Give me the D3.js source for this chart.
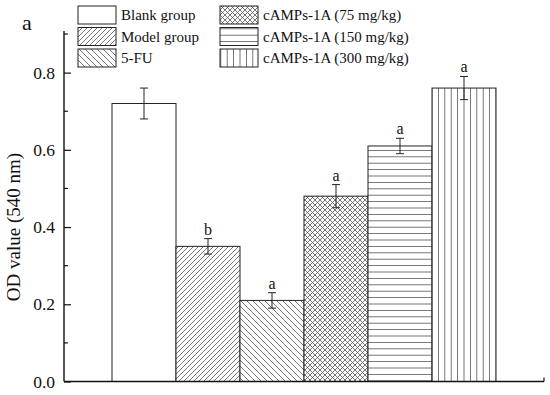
<!DOCTYPE html>
<html>
<head>
<meta charset="utf-8">
<script src="https://cdn.jsdelivr.net/npm/d3@7"></script>
<style>
  body { margin: 0; background: #fff; }
  svg { font-family: "Liberation Serif", "Times New Roman", serif; }
</style>
</head>
<body>
<svg id="chart" width="550" height="395"></svg>
<script>
// data
const groups = ["Blank group", "Model group", "5-FU", "cAMPs-1A (75 mg/kg)", "cAMPs-1A (150 mg/kg)", "cAMPs-1A (300 mg/kg)"];
const values = [0.72, 0.35, 0.21, 0.48, 0.61, 0.76];
const errors = [0.04, 0.02, 0.02, 0.03, 0.02, 0.03];
const letters = ["", "b", "a", "a", "a", "a"];
const patterns = ["none", "diag1", "diag2", "cross", "horiz", "vert"];
const yTicks = [0.0, 0.2, 0.4, 0.6, 0.8];

const svg = d3.select("#chart");
const mLeft = 64, mRight = 544, mTop = 34, mBottom = 381.5;

const x = d3.scaleBand().domain(groups).range([mLeft, mRight]).paddingInner(0).paddingOuter(0.75);
const y = d3.scaleLinear().domain([0, 0.9]).range([mBottom, mTop]);

// hatch patterns
const defs = svg.append("defs");
function pat(id, size, draw) {
  const p = defs.append("pattern").attr("id", id).attr("patternUnits", "userSpaceOnUse")
    .attr("width", size).attr("height", size);
  p.append("rect").attr("width", size).attr("height", size).attr("fill", "#fff");
  draw(p, size);
}
function ln(p, x1, y1, x2, y2) {
  p.append("line").attr("x1", x1).attr("y1", y1).attr("x2", x2).attr("y2", y2)
    .attr("stroke", "#555").attr("stroke-width", 0.8);
}
pat("diag1", 5, (p, s) => { ln(p, 0, s, s, 0); ln(p, -1, 1, 1, -1); ln(p, s - 1, s + 1, s + 1, s - 1); });
pat("diag2", 6, (p, s) => { ln(p, 0, 0, s, s); ln(p, -1, s - 1, 1, s + 1); ln(p, s - 1, -1, s + 1, 1); });
pat("cross", 5, (p, s) => { ln(p, 0, s, s, 0); ln(p, 0, 0, s, s); ln(p, -1, 1, 1, -1); ln(p, s - 1, s + 1, s + 1, s - 1); ln(p, -1, s - 1, 1, s + 1); ln(p, s - 1, -1, s + 1, 1); });
pat("horiz", 6.4, (p, s) => { ln(p, 0, s / 2, s, s / 2); });
pat("vert", 6.4, (p, s) => { ln(p, s / 2, 0, s / 2, s); });
const fillOf = k => k === "none" ? "#fff" : "url(#" + k + ")";

// bars
svg.append("g").selectAll("rect")
  .data(groups)
  .enter().append("rect")
  .attr("x", d => x(d))
  .attr("y", (d, i) => y(values[i]))
  .attr("width", x.bandwidth())
  .attr("height", (d, i) => y(0) - y(values[i]))
  .attr("fill", (d, i) => fillOf(patterns[i]))
  .attr("stroke", "#222")
  .attr("stroke-width", 1);

// error bars
const eb = svg.append("g").attr("stroke", "#222").attr("stroke-width", 1);
groups.forEach((g, i) => {
  const cx = x(g) + x.bandwidth() / 2;
  const y1 = y(values[i] + errors[i]), y2 = y(values[i] - errors[i]);
  eb.append("line").attr("x1", cx).attr("x2", cx).attr("y1", y1).attr("y2", y2);
  eb.append("line").attr("x1", cx - 4).attr("x2", cx + 4).attr("y1", y1).attr("y2", y1);
  eb.append("line").attr("x1", cx - 4).attr("x2", cx + 4).attr("y1", y2).attr("y2", y2);
  if (letters[i]) {
    svg.append("text").attr("x", cx).attr("y", y1 - 4)
      .attr("text-anchor", "middle").attr("font-size", 16).attr("fill", "#111")
      .text(letters[i]);
  }
});

// y axis, ticks pointing inward
const yAxis = d3.axisLeft(y).tickValues(yTicks).tickFormat(d3.format(".1f")).tickSize(-7).tickPadding(9);
const ya = svg.append("g").attr("transform", `translate(${mLeft},0)`).call(yAxis);
ya.select(".domain").remove();
ya.selectAll("line").attr("stroke", "#111").attr("stroke-width", 1.2);
ya.selectAll("text").attr("font-size", 17.5).attr("fill", "#111").attr("font-family", "Liberation Serif");
const minor = d3.range(0.1, 0.95, 0.2);
svg.append("g").selectAll("line").data(minor).enter().append("line")
  .attr("x1", mLeft).attr("x2", mLeft + 4).attr("y1", d => y(d)).attr("y2", d => y(d))
  .attr("stroke", "#111").attr("stroke-width", 1.2);
svg.append("line").attr("x1", mLeft).attr("x2", mLeft).attr("y1", mTop - 3).attr("y2", mBottom)
  .attr("stroke", "#111").attr("stroke-width", 1.4);

// x axis line
svg.append("line").attr("x1", mLeft).attr("x2", mRight).attr("y1", mBottom).attr("y2", mBottom)
  .attr("stroke", "#111").attr("stroke-width", 1.4);
svg.append("line").attr("x1", mRight).attr("x2", mRight).attr("y1", mBottom).attr("y2", mBottom - 4)
  .attr("stroke", "#111").attr("stroke-width", 1.2);

// y axis title
svg.append("text").attr("transform", "translate(20,227) rotate(-90)")
  .attr("text-anchor", "middle").attr("font-size", 19).attr("fill", "#111")
  .text("OD value (540 nm)");

// panel letter
svg.append("text").attr("x", 22).attr("y", 30).attr("font-size", 22).attr("fill", "#111").text("a");

// legend
const legend = svg.append("g");
groups.forEach((g, i) => {
  const col = Math.floor(i / 3), row = i % 3;
  const lx = col === 0 ? 78 : 220, ly = 6 + row * 21.5;
  legend.append("rect").attr("x", lx).attr("y", ly).attr("width", 38).attr("height", 18)
    .attr("fill", fillOf(patterns[i])).attr("stroke", "#222").attr("stroke-width", 1);
  legend.append("text").attr("x", lx + 43).attr("y", ly + 14).attr("font-size", 15)
    .attr("fill", "#111").text(g);
});
</script>
</body>
</html>
